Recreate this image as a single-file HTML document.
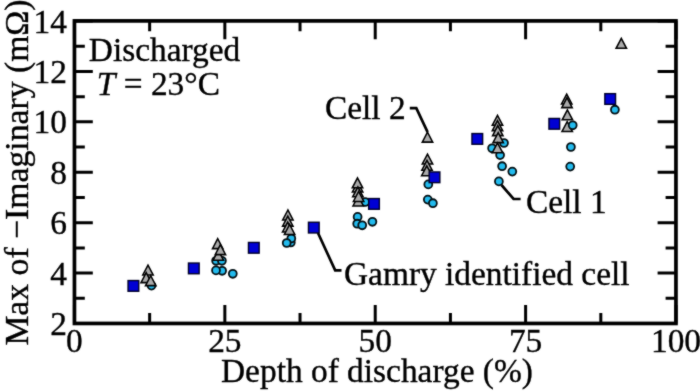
<!DOCTYPE html><html><head><meta charset="utf-8"><style>
html,body{margin:0;padding:0;background:#fff;}
svg{display:block;} text{font-family:"Liberation Serif",serif;fill:#000;stroke:#000;stroke-width:0.35px;}
</style></head><body>
<svg width="700" height="392" viewBox="0 0 700 392">
<defs><filter id="soft" color-interpolation-filters="sRGB" x="0" y="0" width="700" height="392" filterUnits="userSpaceOnUse"><feConvolveMatrix order="3" kernelMatrix="1 2 1 2 18 2 1 2 1" divisor="30" edgeMode="duplicate"/></filter></defs>
<g filter="url(#soft)">
<rect width="700" height="392" fill="#fff"/>
<path d="M74.45 323.45V305.10M74.45 20.9V39.25M149.64 323.45V313.10M149.64 20.9V31.25M224.84 323.45V305.10M224.84 20.9V39.25M300.03 323.45V313.10M300.03 20.9V31.25M375.23 323.45V305.10M375.23 20.9V39.25M450.42 323.45V313.10M450.42 20.9V31.25M525.61 323.45V305.10M525.61 20.9V39.25M600.81 323.45V313.10M600.81 20.9V31.25M676.00 323.45V305.10M676.00 20.9V39.25M74.45 323.50H92.80M675.95 323.50H657.60M74.45 298.29H84.80M675.95 298.29H665.60M74.45 273.08H92.80M675.95 273.08H657.60M74.45 247.88H84.80M675.95 247.88H665.60M74.45 222.67H92.80M675.95 222.67H657.60M74.45 197.46H84.80M675.95 197.46H665.60M74.45 172.25H92.80M675.95 172.25H657.60M74.45 147.04H84.80M675.95 147.04H665.60M74.45 121.84H92.80M675.95 121.84H657.60M74.45 96.63H84.80M675.95 96.63H665.60M74.45 71.42H92.80M675.95 71.42H657.60M74.45 46.21H84.80M675.95 46.21H665.60M74.45 21.00H92.80M675.95 21.00H657.60" stroke="#000" stroke-width="3" fill="none"/>
<rect x="74.45" y="20.9" width="601.50" height="302.55" fill="none" stroke="#000" stroke-width="3.7"/>
<g fill="#22bbee" stroke="#041014" stroke-width="1.8"><circle cx="151.5" cy="285.6" r="3.95"/><circle cx="216.1" cy="260.8" r="3.95"/><circle cx="221.9" cy="260.8" r="3.95"/><circle cx="222.1" cy="270.8" r="3.95"/><circle cx="216" cy="270.4" r="3.95"/><circle cx="232.8" cy="273.8" r="3.95"/><circle cx="290.8" cy="242.5" r="3.95"/><circle cx="291.3" cy="238.5" r="3.95"/><circle cx="286.7" cy="243" r="3.95"/><circle cx="365.2" cy="202" r="3.95"/><circle cx="357.6" cy="216.9" r="3.95"/><circle cx="357.2" cy="223.7" r="3.95"/><circle cx="362.2" cy="225.3" r="3.95"/><circle cx="372.4" cy="221.8" r="3.95"/><circle cx="428.3" cy="184.4" r="3.95"/><circle cx="427.8" cy="199.6" r="3.95"/><circle cx="432.9" cy="203.2" r="3.95"/><circle cx="504" cy="143" r="3.95"/><circle cx="492.1" cy="148.3" r="3.95"/><circle cx="500.1" cy="155.1" r="3.95"/><circle cx="502.1" cy="166.2" r="3.95"/><circle cx="512.3" cy="171.6" r="3.95"/><circle cx="498.9" cy="181.4" r="3.95"/><circle cx="614.9" cy="109.7" r="3.95"/></g>
<g fill="#aaaaaa" stroke="#000" stroke-width="1.55" stroke-linejoin="miter"><path d="M148.00 265.10L142.80 275.00H153.20Z"/><path d="M146.20 272.70L141.00 282.60H151.40Z"/><path d="M150.70 275.70L145.50 285.60H155.90Z"/><path d="M218.30 250.30L213.10 260.20H223.50Z"/><path d="M217.70 238.70L212.50 248.60H222.90Z"/><path d="M220.40 244.70L215.20 254.60H225.60Z"/><path d="M287.90 210.00L282.70 219.90H293.10Z"/><path d="M287.80 216.20L282.60 226.10H293.00Z"/><path d="M287.70 222.10L282.50 232.00H292.90Z"/><path d="M289.60 224.50L284.40 234.40H294.80Z"/><path d="M357.60 182.10L352.40 192.00H362.80Z"/><path d="M357.50 177.90L352.30 187.80H362.70Z"/><path d="M357.90 186.90L352.70 196.80H363.10Z"/><path d="M358.20 196.00L353.00 205.90H363.40Z"/><path d="M358.60 191.50L353.40 201.40H363.80Z"/><path d="M427.50 132.20L422.30 142.10H432.70Z"/><path d="M427.50 154.10L422.30 164.00H432.70Z"/><path d="M427.00 160.30L421.80 170.20H432.20Z"/><path d="M426.80 165.80L421.60 175.70H432.00Z"/><path d="M497.50 115.30L492.30 125.20H502.70Z"/><path d="M497.50 120.70L492.30 130.60H502.70Z"/><path d="M497.80 125.70L492.60 135.60H503.00Z"/><path d="M498.20 132.70L493.00 142.60H503.40Z"/><path d="M497.50 142.80L492.30 152.70H502.70Z"/><path d="M566.70 94.10L561.50 104.00H571.90Z"/><path d="M567.00 97.70L561.80 107.60H572.20Z"/><path d="M567.40 109.90L562.20 119.80H572.60Z"/><path d="M567.20 121.60L562.00 131.50H572.40Z"/><path d="M621.30 38.40L616.10 48.30H626.50Z"/></g>
<g fill="#22bbee" stroke="#041014" stroke-width="1.8"><circle cx="572.7" cy="125.3" r="3.95"/><circle cx="570.9" cy="147" r="3.95"/><circle cx="570.2" cy="166.6" r="3.95"/></g>
<g fill="#0000d4" stroke="#000028" stroke-width="1.4"><rect x="128.05" y="280.55" width="10.7" height="10.7"/><rect x="188.45" y="263.05" width="10.7" height="10.7"/><rect x="248.45" y="242.45" width="10.7" height="10.7"/><rect x="308.45" y="222.25" width="10.7" height="10.7"/><rect x="368.65" y="198.55" width="10.7" height="10.7"/><rect x="429.15" y="171.95" width="10.7" height="10.7"/><rect x="471.95" y="133.55" width="10.7" height="10.7"/><rect x="548.95" y="118.45" width="10.7" height="10.7"/><rect x="604.85" y="93.65" width="10.7" height="10.7"/></g>
<g fill="none" stroke="#000" stroke-width="2.7" stroke-linejoin="miter">
<polyline points="409.8,108.2 416.3,108.2 427.6,132.2"/>
<polyline points="501.5,185 513.6,199 520.6,199"/>
<polyline points="318,233 335.2,270.4 341.5,270.4"/>
</g>
<g font-size="33.4">
<text x="67" y="335.00" text-anchor="end">2</text>
<text x="67" y="284.58" text-anchor="end">4</text>
<text x="67" y="234.17" text-anchor="end">6</text>
<text x="67" y="183.75" text-anchor="end">8</text>
<text x="67" y="133.34" text-anchor="end">10</text>
<text x="67" y="82.92" text-anchor="end">12</text>
<text x="67" y="32.50" text-anchor="end">14</text>
<text x="74.45" y="352.1" text-anchor="middle">0</text>
<text x="224.84" y="352.1" text-anchor="middle">25</text>
<text x="375.23" y="352.1" text-anchor="middle">50</text>
<text x="525.61" y="352.1" text-anchor="middle">75</text>
<text x="676.00" y="352.1" text-anchor="middle">100</text>
<text x="88.8" y="60.8">Discharged</text>
<text x="96.8" y="95.0"><tspan font-style="italic">T</tspan> = 23°C</text>
<text x="325" y="119">Cell 2</text>
<text x="526" y="212.5">Cell 1</text>
<text x="344" y="284.7">Gamry identified cell</text>
<text x="221.0" y="382.2">Depth of discharge (%)</text>
<text font-size="33.7" transform="translate(28 345.6) rotate(-90)">Max of −Imaginary (mΩ)</text>
</g>
</g></svg></body></html>
